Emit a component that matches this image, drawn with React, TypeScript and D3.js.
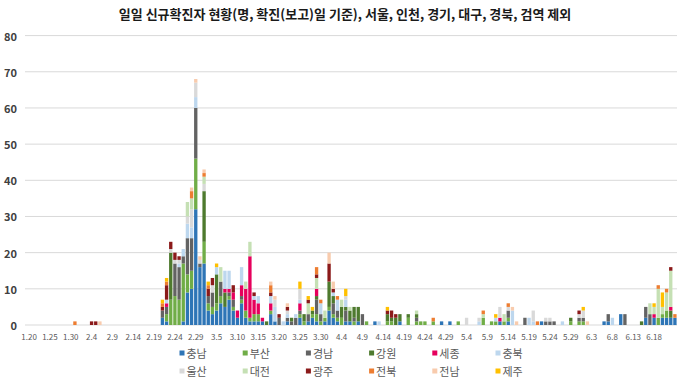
import React from "react";
import * as d3 from "d3";

const TITLE = "일일 신규확진자 현황(명, 확진(보고)일 기준), 서울, 인천, 경기, 대구, 경북, 검역 제외";

const SERIES_NAMES = ["충남", "부산", "경남", "강원", "세종", "충북", "울산", "대전", "광주", "전북", "전남", "제주"];
const SERIES_COLORS = ["#2E75B6", "#70AD47", "#636363", "#4E7A2E", "#E6005C", "#BDD7EE", "#D9D9D9", "#C5E0B4", "#8B1A1A", "#ED7D31", "#F8CBAD", "#FFC000"];

const Y_TICKS = [0, 10, 20, 30, 40, 50, 60, 70, 80];
const X_TICK_LABELS = ["1.20", "1.25", "1.30", "2.4", "2.9", "2.14", "2.19", "2.24", "2.29", "3.5", "3.10", "3.15", "3.20", "3.25", "3.30", "4.4", "4.9", "4.14", "4.19", "4.24", "4.29", "5.4", "5.9", "5.14", "5.19", "5.24", "5.29", "6.3", "6.8", "6.13", "6.18"];

const chungnam: [string, number][] = [["2.21",2],["2.22",1],["2.26",1],["2.27",9],["2.28",10],["2.29",32],["3.1",16],["3.2",17],["3.3",4],["3.4",3],["3.5",4],["3.6",6],["3.7",5],["3.8",7],["3.9",4],["3.10",2],["3.11",6],["3.12",2],["3.13",1],["3.14",1],["3.15",1],["3.16",1],["3.18",3],["3.19",1],["3.22",1],["3.25",2],["3.27",1],["3.28",2],["3.29",1],["3.31",1],["4.1",4],["4.2",2],["4.3",1],["4.5",1],["4.6",1],["4.8",1],["4.12",1],["4.18",1],["4.28",1],["4.30",1],["5.12",1],["5.14",1],["5.22",1],["6.6",1],["6.7",1],["6.10",3],["6.16",2],["6.18",2],["6.20",2],["6.21",2],["6.22",2],["6.23",2]];
const busan: [string, number][] = [["2.22",2],["2.23",7],["2.24",8],["2.25",7],["2.26",16],["2.27",5],["2.28",5],["2.29",14],["3.2",6],["3.3",2],["3.4",2],["3.5",2],["3.6",2],["3.8",1],["3.9",1],["3.11",1],["3.12",2],["3.13",1],["3.14",2],["3.15",2],["3.18",1],["3.25",1],["3.26",1],["3.28",1],["3.29",2],["3.30",1],["3.31",1],["4.1",1],["4.2",1],["4.3",1],["4.4",2],["4.7",1],["4.10",1],["4.15",1],["4.16",1],["4.20",2],["4.22",1],["4.23",1],["4.24",1],["4.26",1],["5.2",1],["5.8",2],["5.10",1],["5.11",1],["5.13",1],["5.14",1],["5.29",1],["5.31",1],["6.1",1],["6.19",2],["6.20",1],["6.21",2]];
const gyeongnam: [string, number][] = [["2.21",2],["2.22",2],["2.24",9],["2.25",9],["2.26",2],["2.27",10],["2.28",9],["2.29",14],["3.1",1],["3.3",2],["3.4",4],["3.6",4],["3.8",1],["3.9",2],["3.11",1],["3.20",2],["3.22",1],["3.23",1],["3.24",2],["3.25",1],["3.27",2],["3.29",4],["3.30",2],["4.2",3],["4.3",2],["4.5",3],["4.7",1],["4.9",3],["4.22",1],["5.14",2],["5.18",2],["5.23",1],["5.24",1],["5.25",1],["5.31",1],["6.1",1],["6.7",2],["6.11",3],["6.16",3],["6.17",3]];
const gangwon: [string, number][] = [["2.23",13],["3.2",14],["3.5",8],["3.7",4],["3.17",1],["3.23",1],["3.26",2],["3.28",1],["3.29",1],["4.1",7],["4.2",2],["4.4",3],["4.5",1],["4.6",3],["4.7",3],["4.8",4],["4.15",2],["4.16",1],["4.17",2],["4.18",2],["4.20",1],["4.22",1],["5.29",1],["6.15",1],["6.22",2]];
const sejong: [string, number][] = [["2.22",1],["3.7",1],["3.8",1],["3.9",2],["3.10",2],["3.11",3],["3.12",6],["3.13",17],["3.14",4],["3.15",3],["3.16",1],["3.18",2],["3.25",2],["3.29",2],["5.12",1],["6.18",1],["6.22",1]];
const chungbuk: [string, number][] = [["2.22",1],["2.25",1],["2.26",2],["2.27",4],["2.28",3],["2.29",3],["3.5",2],["3.7",5],["3.8",5],["3.11",5],["3.14",1],["3.15",2],["3.18",2],["3.19",4],["3.21",1],["3.22",1],["3.24",1],["3.25",1],["3.30",3],["4.2",1],["4.3",3],["4.5",2],["4.13",1],["5.7",1],["5.11",1],["5.15",4],["5.19",2],["5.20",1],["5.27",1],["6.8",2]];
const ulsan: [string, number][] = [["2.23",1],["2.24",1],["2.25",1],["2.27",2],["2.28",5],["2.29",4],["3.1",1],["3.2",2],["3.4",2],["3.19",2],["3.22",1],["3.25",3],["4.5",1],["5.4",2],["5.7",1],["5.12",3],["5.14",1],["5.20",3],["5.23",1],["5.24",1],["5.31",1],["6.1",2]];
const daejeon: [string, number][] = [["2.27",4],["2.28",3],["3.2",2],["3.6",4],["3.12",2],["3.13",4],["3.27",3],["3.29",3],["3.31",2],["4.4",2],["4.6",1],["4.22",1],["5.8",1],["5.13",2],["6.17",3],["6.18",2],["6.19",8],["6.20",2],["6.21",5],["6.22",10]];
const gwangju: [string, number][] = [["2.4",1],["2.5",1],["2.21",1],["2.22",4],["2.23",2],["2.24",2],["2.25",1],["3.3",2],["3.4",2],["3.9",2],["3.14",1],["3.18",1],["3.20",1],["3.22",1],["3.27",1],["3.29",1],["4.1",5],["4.2",1],["4.15",1],["4.16",2],["4.17",1],["5.31",1],["6.22",1]];
const jeonbuk: [string, number][] = [["1.31",1],["2.21",1],["2.22",1],["2.28",2],["3.2",1],["3.3",1],["3.18",2],["3.29",2],["3.30",1],["4.3",1],["4.26",1],["5.8",1],["5.14",1],["5.21",1],["6.19",1],["6.21",1],["6.23",1]];
const jeonnam: [string, number][] = [["2.6",1],["2.28",1],["2.29",1],["3.1",1],["3.2",1],["3.18",1],["3.19",1],["3.22",1],["4.1",3],["4.2",2],["5.15",1],["5.16",1],["6.2",1]];
const jeju: [string, number][] = [["2.21",1],["2.22",1],["3.3",1],["3.5",1],["3.25",2],["3.27",1],["3.28",1],["4.5",2],["4.15",1],["5.11",1],["6.1",1],["6.18",1],["6.20",4]];

const SERIES_POINTS = [chungnam, busan, gyeongnam, gangwon, sejong, chungbuk, ulsan, daejeon, gwangju, jeonbuk, jeonnam, jeju];

const fmtDay = (d: Date) => `${d.getMonth() + 1}.${d.getDate()}`;
const CATEGORIES = d3.timeDay.range(new Date(2020, 0, 20), new Date(2020, 5, 24)).map(fmtDay);

const W = 680, H = 378;
const FONT = "'Noto Sans CJK KR', 'Noto Sans', sans-serif";

export default function App() {
  const table = CATEGORIES.map((c) => {
    const row: any = { date: c };
    SERIES_NAMES.forEach((n) => (row[n] = 0));
    return row;
  });
  const idx = new Map(CATEGORIES.map((c, i) => [c, i]));
  SERIES_POINTS.forEach((pts, k) => {
    pts.forEach(([d, v]) => {
      const i = idx.get(d);
      if (i !== undefined) table[i][SERIES_NAMES[k]] = v;
    });
  });
  const stacked = d3.stack<any>().keys(SERIES_NAMES)(table);

  const x = d3.scaleBand<string>().domain(CATEGORIES).range([27, 677]).paddingInner(0.2).paddingOuter(0.1);
  const y = d3.scaleLinear().domain([0, 80]).range([325, 35.6]);

  const legendX = (col: number) => 182 + col * 63.2;
  const legendY = (row: number) => 353 + row * 18;

  return (
    <svg width={W} height={H} style={{ position: "absolute", left: 0, top: 0, background: "#fff" }} fontFamily={FONT}>
      <rect x={0} y={0} width={W} height={H} fill="#fff" />
      <text x={345} y={13} textAnchor="middle" dominantBaseline="central" fontSize={13} fontWeight={700} fill="#1a1a1a">
        {TITLE}
      </text>
      {Y_TICKS.map((t) => (
        <g key={t}>
          <line x1={25} x2={677} y1={y(t)} y2={y(t)} stroke="#D9D9D9" strokeWidth={1} />
          <text x={17} y={y(t)} textAnchor="end" dominantBaseline="central" fontSize={11} fontWeight={700} fill="#404040">
            {t}
          </text>
        </g>
      ))}
      {stacked.map((s, k) => (
        <g key={SERIES_NAMES[k]} fill={SERIES_COLORS[k]}>
          {s.map((d: any, i: number) =>
            d[1] - d[0] > 0 ? (
              <rect key={i} x={x(d.data.date)} width={x.bandwidth()} y={y(d[1])} height={y(d[0]) - y(d[1])} />
            ) : null
          )}
        </g>
      ))}
      {X_TICK_LABELS.map((lab) => (
        <text key={lab} x={(x(lab) as number) + x.bandwidth() / 2} y={336} textAnchor="middle" dominantBaseline="central" fontSize={8} fill="#595959">
          {lab}
        </text>
      ))}
      {SERIES_NAMES.map((n, k) => {
        const col = k % 6, row = Math.floor(k / 6);
        const cx = legendX(col), cy = legendY(row);
        return (
          <g key={n}>
            <rect x={cx - 2.5} y={cy - 2.5} width={5} height={5} fill={SERIES_COLORS[k]} />
            <text x={cx + 4.5} y={cy} dominantBaseline="central" fontSize={11} fill="#595959">
              {n}
            </text>
          </g>
        );
      })}
    </svg>
  );
}
